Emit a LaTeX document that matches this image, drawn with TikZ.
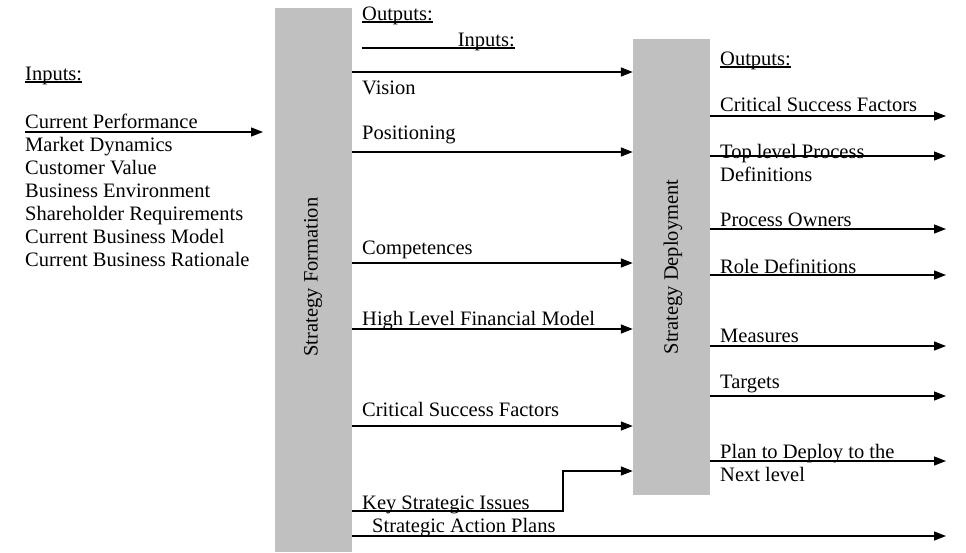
\documentclass[tikz,border=0pt]{standalone}
\usepackage{fontspec}
\setmainfont{Liberation Serif}
\usetikzlibrary{arrows.meta, positioning}
\definecolor{boxgray}{HTML}{C0C0C0}
\newcommand{\uln}[1]{\setbox0\hbox{#1}\rlap{\rule[-2.5pt]{\wd0}{1.1pt}}\box0}

\begin{document}
\begin{tikzpicture}[
  x=1pt, y=-1pt,
  every node/.style={font=\fontsize{20.5}{23}\selectfont},
  stage/.style={rectangle, fill=boxgray, inner sep=0pt, minimum width=77pt},
  lbl/.style={anchor=base west, inner sep=0pt, align=left},
  flow/.style={-{Triangle[length=12pt,width=9pt]}, line width=1.3pt},
]
\useasboundingbox (0,0) rectangle (966,552);

% Stages
\node[stage, minimum height=544pt] (form) at (313.5,280) {};
\node[stage, minimum height=456pt] (dep) at (671.5,267) {};
\node[rotate=90] (formlbl) at (313,277) {Strategy Formation};
\node[rotate=90] (deplbl) at (673,267) {Strategy Deployment};

% Inputs to formation
\node[lbl] (inhead) at (25,80) {\uln{Inputs:}};
\foreach \t [count=\i] in {Current Performance, Market Dynamics, Customer Value, Business Environment, Shareholder Requirements, Current Business Model, Current Business Rationale}
  \node[lbl] (in\i) at (25,105+23*\i) {\t};
\coordinate (inend) at (263,132);
\draw[flow] ([yshift=-4pt]in1.base west) -- (inend);

% Formation outputs / deployment inputs
\node[lbl] (outmid) at (362,20) {\uln{Outputs:}};
\node[lbl, anchor=base east] (inmid) at (515,46) {\uln{\makebox[153pt][r]{Inputs:}}};
\foreach \ay/\ty/\t [count=\i] in {72/94/Vision, 152/139/Positioning, 263/254/Competences, 329/325/High Level Financial Model, 426/416/Critical Success Factors} {
  \node[lbl] (mid\i) at (362,\ty) {\t};
  \draw[flow] (form.east |- 0,\ay) -- (dep.west |- 0,\ay);
}
\node[lbl] (issues) at (362,509) {Key Strategic Issues};
\coordinate (kbend) at (563,511);
\draw[flow] (form.east |- kbend) -- (kbend) |- (dep.west |- 0,471);
\node[lbl] (plans) at (372,532) {Strategic Action Plans};
\coordinate (plansend) at (946,536);
\draw[flow] (form.east |- plansend) -- (plansend);

% Deployment outputs (base = last line)
\coordinate (rim) at (946,0);
\node[lbl] (outhead) at (720,65) {\uln{Outputs:}};
\foreach \ay/\ty/\t [count=\i] in {116/111/Critical Success Factors, 156/181/Top level Process\\Definitions, 229/226/Process Owners, 275/273/Role Definitions, 346/342/Measures, 396/388/Targets, 461/481/Plan to Deploy to the\\Next level} {
  \node[lbl] (out\i) at (720,\ty) {\t};
  \draw[flow] (dep.east |- 0,\ay) -- (rim |- 0,\ay);
}

\end{tikzpicture}
\end{document}
